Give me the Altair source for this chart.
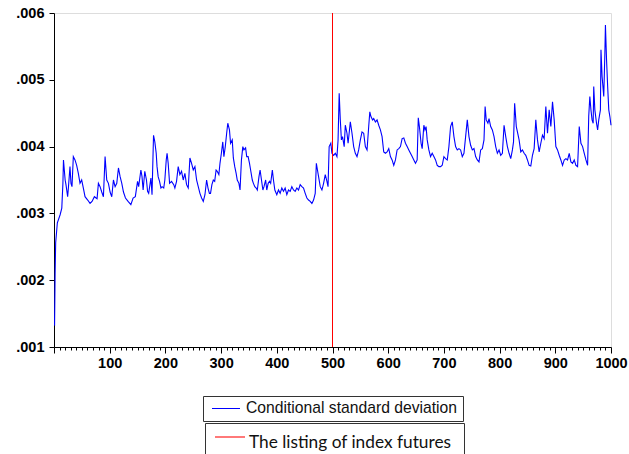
import altair as alt
import pandas as pd

obs = [1, 2, 3, 6, 11, 14, 16, 17, 20, 21.5, 24.5, 26, 28.7, 30.5, 32.3, 34.7, 37.7, 40.7, 43.7, 46.7,
       49.7, 52.7, 55.7, 60.5, 64.7, 68.3, 72.5, 77.3, 79.7, 82.7, 85.7, 88.7, 91.7, 94.7, 97.7, 100.7,
       103.7, 106.7, 109.7, 112.7, 115.7, 118.7, 121.7, 124.7, 128.3,
       133, 138, 142, 146, 150, 152, 156, 158, 160, 163, 166, 168, 170, 174, 176, 178.7, 181, 183.5, 185,
       187, 189.5, 192, 194, 197, 199, 201.5, 203, 205, 207.5, 211, 215, 217, 220, 223, 226, 229, 232, 235,
       238, 241, 244, 247, 250, 253, 256, 259, 262, 265, 268,
       271, 274, 276.5, 279, 281, 283.5, 286, 288.5, 291, 293, 296, 298, 300.5, 303, 305, 307.5, 310, 312,
       315, 317, 320, 322, 324.5, 327, 329, 332, 334, 336.5, 339, 341, 344, 346, 348.5, 351, 353, 356, 358,
       360.5, 363, 365, 368, 370, 372.5, 375, 377, 380, 382, 384.5, 387, 389, 392, 394, 396.5,
       400, 403, 406, 409, 412, 415, 418, 421, 424, 427, 430, 433, 436, 439, 442, 445, 448, 451, 454, 457,
       460, 463, 466, 469, 471, 473, 475, 478, 481, 484, 487, 490, 492, 494, 497, 499, 502, 505, 508, 510,
       512, 514, 516, 518, 521, 523, 526, 528,
       532, 535, 538, 541, 544, 547, 550, 553, 556, 559, 562, 565, 567, 569, 572, 574, 577, 580, 583, 586,
       589, 592, 595, 598, 601, 604, 607, 610, 613, 616, 619, 622, 625, 628, 631, 634, 637, 640, 643, 646,
       649, 652, 654, 656, 659, 661, 664, 666, 668,
       670, 673, 676, 679, 682, 685, 688, 691, 694, 697, 700, 703, 706, 709, 712, 715, 718, 721, 724, 727,
       730, 733, 736, 739, 742, 745, 748, 751, 754, 757, 760, 763, 766, 769, 772, 774, 776, 779, 781, 784,
       787, 790, 793, 796, 799, 802, 805, 808, 811,
       814, 817, 820, 823, 825, 827, 830, 832, 835, 838, 841, 844, 847, 850, 853, 856, 859, 862, 865, 868,
       871, 874, 877, 880, 883, 886, 889, 892, 895, 898, 901, 904, 907, 910, 913, 916, 919, 922, 925, 928,
       931, 934, 937, 940, 943,
       946, 949, 952, 955, 958, 960, 962, 964, 966, 968, 969, 971, 974, 976, 978, 981, 982, 984, 987, 989,
       990, 992, 994, 996, 998, 1000]

csd = [.00132, .0021, .00256, .00286, .00298, .00308, .00345, .0038, .0035, .00343, .00325, .0034, .0037,
       .00345, .0034, .00385, .0038, .00372, .0036, .00345, .0035, .00338, .00325, .0032, .00315, .00318,
       .00325, .00322, .00345, .0034, .00332, .00325, .00385, .0035, .00345, .00332, .00325, .0035, .0034,
       .00345, .00368, .00355, .00345, .00332, .00323,
       .00318, .00313, .00323, .00325, .00348, .0034, .00365, .00355, .00335, .00363, .0035, .00333, .0033,
       .00353, .00328, .00417, .00407, .0039, .0037, .00355, .00348, .00338, .0034, .00338, .0035, .0038,
       .0039, .00375, .00345, .00348, .00343, .00338, .00348, .0037, .00358, .00363, .0035, .0036, .00343,
       .00338, .00383, .00375, .00365, .0037, .0035, .0034, .0033, .00323, .00318,
       .00328, .0035, .00338, .0033, .0033, .00343, .0035, .00348, .00365, .00363, .00358, .00375, .0039,
       .00407, .00385, .004, .0042, .00435, .00425, .00405, .0041, .00383, .0037, .0036, .0035, .00345,
       .00335, .0038, .004, .00395, .00398, .00385, .00385, .00375, .00365, .0035, .00345, .0034, .00338,
       .00335, .00355, .00365, .0035, .00335, .0034, .0035, .00335, .00345, .00348, .00345, .00365, .0035,
       .00335,
       .00328, .00335, .0033, .00338, .00333, .00338, .00328, .00335, .00333, .0034, .00335, .00333, .00338,
       .00335, .00343, .0034, .00338, .0033, .00323, .0032, .00318, .00315, .0032, .0033, .00375, .00365,
       .00355, .0034, .00335, .00345, .00358, .00348, .0034, .004, .00405, .0039, .00387, .0039, .00385,
       .0041, .0048, .0044, .0041, .00415, .004, .00432, .0042, .00405,
       .00437, .0042, .004, .0039, .00385, .00395, .0041, .00422, .0042, .004, .00395, .0043, .00452, .00445,
       .0044, .00442, .00437, .0044, .00432, .00425, .00415, .00392, .0039, .00392, .00397, .00385, .0038,
       .00372, .0038, .00395, .00397, .004, .00412, .00413, .00405, .004, .00395, .0039, .00385, .0038,
       .00375, .0038, .00443, .0043, .00405, .00397, .00432, .00425, .0043,
       .0041, .00395, .00385, .0039, .00385, .0038, .00372, .0037, .0037, .00372, .00385, .00382, .0038,
       .004, .0043, .00437, .00415, .004, .00395, .00397, .00395, .00385, .0039, .00415, .0044, .00415,
       .00402, .00395, .00397, .00385, .0038, .00377, .00395, .00397, .0041, .0046, .0044, .00435, .00442,
       .0043, .00425, .00415, .004, .0039, .00395, .00387, .0039, .00432, .00415,
       .004, .0039, .00382, .00395, .00407, .00465, .0043, .00422, .0041, .00392, .00395, .0039, .00387,
       .0038, .00372, .00371, .00387, .00397, .0044, .0041, .00392, .00405, .00417, .00412, .0046, .0042,
       .00455, .0043, .00467, .0044, .004, .00395, .00387, .0038, .00372, .0038, .00382, .0038, .0039,
       .00377, .00375, .0038, .00372, .0037, .0043,
       .00405, .004, .0039, .0038, .00372, .00445, .00475, .00455, .0044, .00435, .0049, .00455, .00435,
       .00425, .0044, .00455, .00545, .00505, .00475, .0054, .00582, .0053, .0049, .00455, .00445, .00432]

listing_obs = [500]
x_ticks = list(range(0, 1001, 10))
y_ticks = [0.001, 0.002, 0.003, 0.004, 0.005, 0.006]
legend_labels = ["Conditional standard deviation", "The listing of index futures"]

df = pd.DataFrame({"t": obs, "v": csd})

W, H = 557, 334
LABEL_FONT = "Liberation Sans"

x_axis = alt.Axis(values=x_ticks, title=None, grid=False,
                  labelExpr="datum.value % 100 === 0 && datum.value > 0 ? datum.value : ''",
                  tickSize={"condition": {"test": "datum.value % 100 === 0", "value": 6}, "value": 3},
                  labelPadding=3, labelFont=LABEL_FONT, labelFontSize=14.5, labelFontWeight="bold",
                  labelColor="black", tickColor="black", domainColor="black", labelFlush=False,
                  labelOverlap=False)
x_scale = alt.Scale(domain=[0, 1000], nice=False, zero=False)

y_enc = alt.Y("v:Q", scale=alt.Scale(domain=[0.001, 0.006], nice=False, zero=False),
              axis=alt.Axis(values=y_ticks, title=None, grid=False, tickSize=5, labelPadding=5,
                            labelExpr="replace(format(datum.value, '.3f'), '0.', '.')",
                            labelFont=LABEL_FONT, labelFontSize=14.5, labelFontWeight="bold",
                            labelColor="black", tickColor="black", domainColor="black", labelFlush=False))

line = alt.Chart(df).mark_line(color="#0000ff", strokeWidth=1.1).encode(
    x=alt.X("t:Q", scale=x_scale, axis=x_axis), y=y_enc)

vline = alt.Chart(pd.DataFrame({"t": listing_obs})).mark_rule(color="#ff0000", strokeWidth=1).encode(
    x=alt.X("t:Q", scale=x_scale, axis=x_axis))

one = pd.DataFrame({"a": [0]})
box1 = alt.Chart(one).mark_rect(fillOpacity=0, stroke="#333333", strokeWidth=1).encode(
    x=alt.value(149.5), x2=alt.value(409.5), y=alt.value(383.5), y2=alt.value(408.5))
box2 = alt.Chart(one).mark_rect(fillOpacity=0, stroke="#333333", strokeWidth=1).encode(
    x=alt.value(151.5), x2=alt.value(410.5), y=alt.value(410.5), y2=alt.value(470))
sample1 = alt.Chart(one).mark_rule(color="#0000ff", strokeWidth=1).encode(
    x=alt.value(158), x2=alt.value(186), y=alt.value(395.5))
sample2 = alt.Chart(one).mark_rule(color="#ff4d4d", strokeWidth=1.5).encode(
    x=alt.value(161), x2=alt.value(191), y=alt.value(424))
text1 = alt.Chart(one).mark_text(align="left", baseline="alphabetic", font="Liberation Sans",
                                 fontSize=15.7, color="#111111").encode(
    x=alt.value(192), y=alt.value(400), text=alt.value(legend_labels[0]))
text2 = alt.Chart(one).mark_text(align="left", baseline="alphabetic", font="Lato",
                                 fontSize=17.3, color="#111111").encode(
    x=alt.value(195), y=alt.value(435), text=alt.value(legend_labels[1]))

chart = alt.layer(line, vline, box1, box2, sample1, sample2, text1, text2).properties(
    width=W, height=H, autosize="none",
    padding={"left": 54, "top": 13, "right": 18, "bottom": 107}
).configure_view(stroke="black", strokeWidth=1).configure(background="white")

chart.save("out.html", embed_options={"renderer": "svg", "actions": False})
